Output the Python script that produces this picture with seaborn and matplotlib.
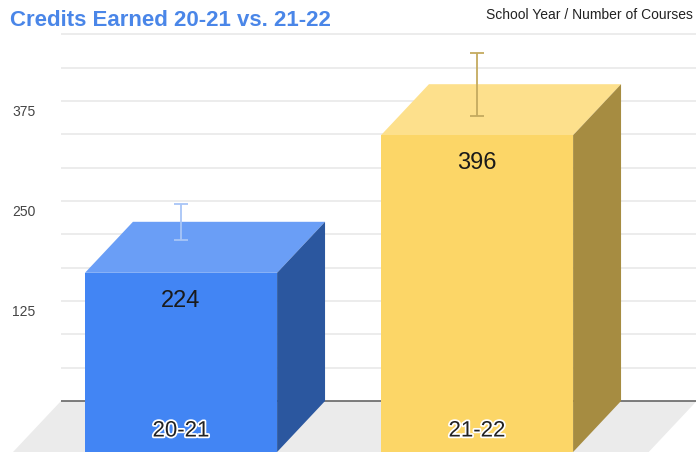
import matplotlib
matplotlib.use("Agg")
import matplotlib.pyplot as plt
import matplotlib.patheffects as pe
from matplotlib.patches import Polygon
import pandas as pd
import seaborn as sns

# ---- data ----
years = ["20-21", "21-22"]
credits = [224, 396]
err = [22.4, 39.6]          # error bar half-lengths
tick_vals = [125, 250, 375]
grid_step = 125 / 3

# ---- colours ----
front_colors = ["#4285f4", "#fcd667"]
top_colors = ["#6a9ef6", "#fde08c"]
side_colors = ["#2b579f", "#a68c41"]
err_colors = ["#a8c5f7", "#c4aa5f"]

# 3D depth of the bars (x in category units, y in value units)
DX = 0.162
DY = 63.75
BAR_W = 0.649
LEFT = -0.5676

sns.set_theme(style="white")
plt.rcParams["font.family"] = ["Liberation Sans", "DejaVu Sans"]

fig = plt.figure(figsize=(6.96, 4.56), dpi=100)
ax = fig.add_axes([0, 0, 1, 1])

df = pd.DataFrame({"year": years, "credits": credits})
sns.barplot(data=df, x="year", y="credits", hue="year", palette=front_colors, saturation=1,
            width=BAR_W, errorbar=None, legend=False, ax=ax, zorder=5, linewidth=0)

ax.set_xlim(-0.7736, 1.5777)
ax.set_ylim(-67.5, 502.5)
ax.set_axis_off()

# floor
x_right = 1.58
ax.add_patch(Polygon([(LEFT, 0), (x_right, 0), (x_right - DX, -DY), (LEFT - DX, -DY)],
                     closed=True, facecolor="#ebebeb", edgecolor="none", zorder=1))

# gridlines + baseline
for k in range(1, 12):
    ax.hlines(k * grid_step, LEFT, 2.0, color="#ebebeb", lw=1.3, zorder=2)
ax.hlines(0, LEFT, 2.0, color="#666666", lw=1.2, zorder=2)

# y tick labels (sit a little below their gridline)
for t in tick_vals:
    ax.text(-0.6926, t - 12.5, str(t), ha="center", va="center", fontsize=10, color="#444444")

# turn each flat bar into a box: shift the front face, add top and side
for i, bar in enumerate(ax.patches[:len(credits)]):
    x0 = bar.get_x()
    w = bar.get_width()
    h = bar.get_height()
    fx = x0 - DX
    bar.set_x(fx)
    bar.set_y(-DY)
    top = [(fx, h - DY), (fx + w, h - DY), (x0 + w, h), (x0, h)]
    side = [(fx + w, -DY), (x0 + w, 0), (x0 + w, h), (fx + w, h - DY)]
    ax.add_patch(Polygon(top, closed=True, facecolor=top_colors[i], edgecolor="none", zorder=4))
    ax.add_patch(Polygon(side, closed=True, facecolor=side_colors[i], edgecolor="none", zorder=4))

    cx = fx + w / 2
    ax.errorbar(cx, h, yerr=err[i], fmt="none", ecolor=err_colors[i], elinewidth=1.3,
                capsize=5, capthick=1.3, zorder=6)
    ax.annotate(str(credits[i]), xy=(cx, h - DY), xytext=(0, -27), textcoords="offset pixels",
                ha="center", va="center", fontsize=17, color="#1a1a1a", zorder=7)
    ax.annotate(years[i], xy=(cx, -DY), xytext=(0, 21), textcoords="offset pixels",
                ha="center", va="center", fontsize=16, color="#222222", zorder=7,
                path_effects=[pe.withStroke(linewidth=2.5, foreground="white")])

fig.text(10 / 696, 1 - 20 / 456, "Credits Earned 20-21 vs. 21-22", ha="left", va="center",
         fontsize=16, fontweight="bold", color="#4a86e8")
fig.text(693 / 696, 1 - 15 / 456, "School Year / Number of Courses", ha="right", va="center",
         fontsize=10, color="#222222")

fig.savefig("out.png", dpi=100)
